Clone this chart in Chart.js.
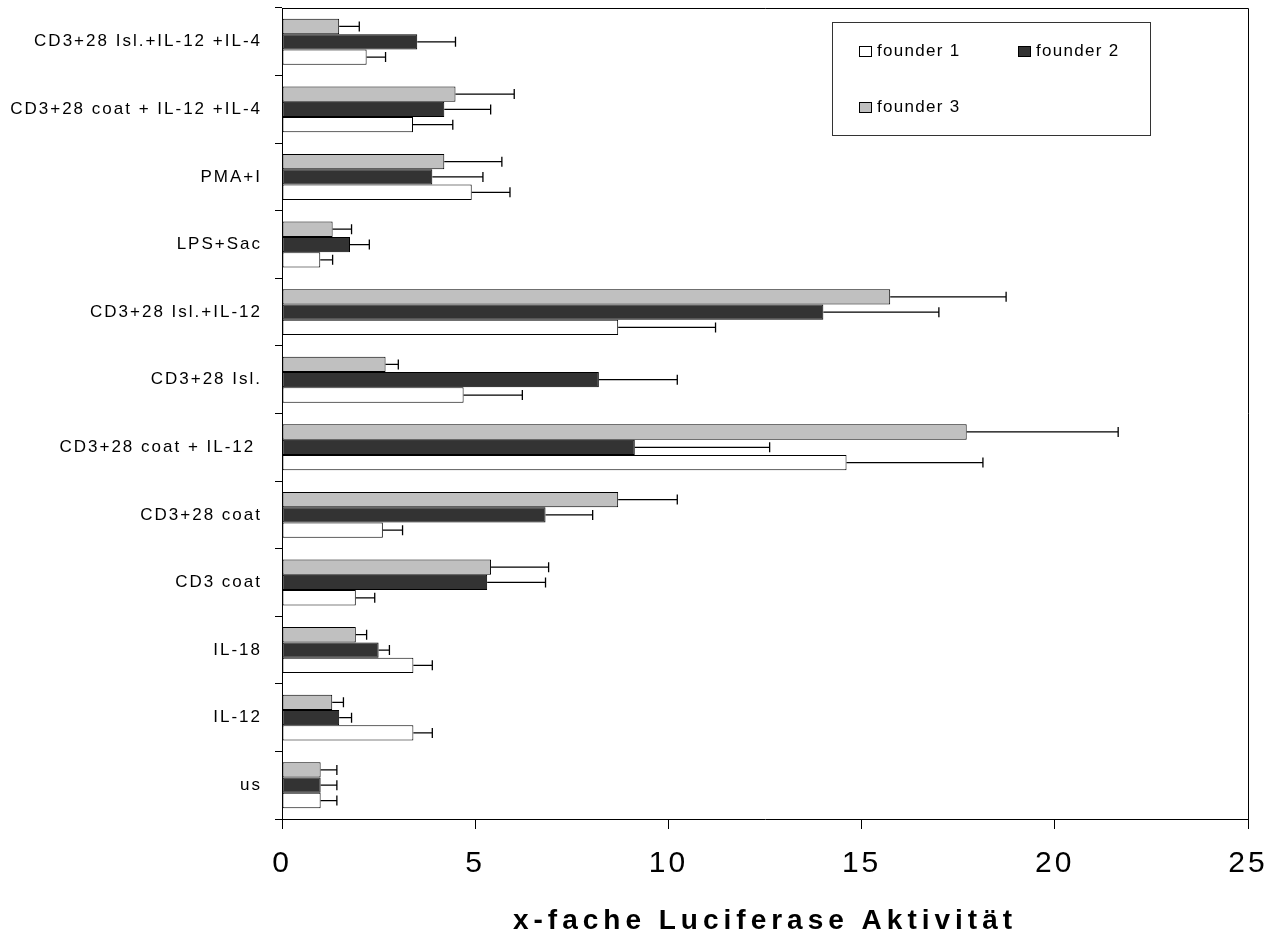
<!DOCTYPE html>
<html>
<head>
<meta charset="utf-8">
<script src="https://cdn.jsdelivr.net/npm/chart.js@4/dist/chart.umd.min.js"></script>
<style>
  html, body { margin: 0; padding: 0; background: #fff; }
  #wrap { width: 1279px; height: 935px; }
</style>
</head>
<body>
<div id="wrap"><canvas id="c" width="1279" height="935"></canvas></div>
<script>
// categories from bottom (us) to top, like the original Excel chart
const categories = ['us', 'IL-12', 'IL-18', 'CD3 coat', 'CD3+28 coat', 'CD3+28 coat + IL-12 ',
  'CD3+28 Isl.', 'CD3+28 Isl.+IL-12', 'LPS+Sac', 'PMA+I', 'CD3+28 coat + IL-12 +IL-4', 'CD3+28 Isl.+IL-12 +IL-4']

const founder1 = [1.0, 3.4, 3.4, 1.91, 2.61, 14.61, 4.7, 8.7, 0.99, 4.91, 3.39, 2.19]
const founder2 = [1.0, 1.48, 2.5, 5.31, 6.82, 9.13, 8.2, 14.01, 1.76, 3.89, 4.2, 3.5]
const founder3 = [1.0, 1.3, 1.91, 5.41, 8.7, 17.72, 2.68, 15.74, 1.31, 4.2, 4.49, 1.48]

// error (upper part only)
const err1 = [0.42, 0.49, 0.49, 0.49, 0.51, 3.53, 1.52, 2.52, 0.32, 0.99, 1.03, 0.49]
const err2 = [0.42, 0.32, 0.28, 1.51, 1.22, 3.49, 2.03, 2.99, 0.5, 1.31, 1.2, 0.99]
const err3 = [0.42, 0.29, 0.28, 1.49, 1.53, 3.92, 0.33, 3.0, 0.49, 1.49, 1.52, 0.52]

const xTicks = [0, 5, 10, 15, 20, 25]

const FONT = 'Arial, "Liberation Sans", sans-serif'

// canvas letterSpacing wrapper for the scale text
function spaced(fn, px) {
    return function(...args) {
        const ctx = this.ctx
        ctx.save()
        ctx.letterSpacing = px + 'px'
        fn.apply(this, args)
        ctx.restore()
    }
}

const spacingPlugin = {
    id: 'spacing',
    afterUpdate(chart) {
        const x = chart.scales.x, y = chart.scales.y
        if (!x._spaced) {
            x.drawLabels = spaced(Object.getPrototypeOf(x).drawLabels, 3)
            x.drawTitle = spaced(Object.getPrototypeOf(x).drawTitle, 5)
            x._spaced = true
        }
        if (!y._spaced) {
            y.drawLabels = spaced(Object.getPrototypeOf(y).drawLabels, 2)
            y._spaced = true
        }
    }
}

const errorBars = {
    id: 'errorBars',
    afterDatasetsDraw(chart) {
        const ctx = chart.ctx
        const xs = chart.scales.x
        ctx.save()
        ctx.strokeStyle = '#000'
        ctx.lineWidth = 1.3
        chart.data.datasets.forEach((ds, i) => {
            const meta = chart.getDatasetMeta(i)
            meta.data.forEach((bar, j) => {
                const xe = xs.getPixelForValue(ds.data[j] + ds.errors[j])
                ctx.beginPath()
                ctx.moveTo(bar.x, bar.y)
                ctx.lineTo(xe, bar.y)
                ctx.moveTo(xe, bar.y - 5)
                ctx.lineTo(xe, bar.y + 5)
                ctx.stroke()
            })
        })
        ctx.restore()
    }
}

const frameAndLegend = {
    id: 'frameAndLegend',
    beforeDraw(chart) {
        const ctx = chart.ctx
        ctx.save()
        ctx.fillStyle = '#fff'
        ctx.fillRect(0, 0, chart.width, chart.height)
        ctx.restore()
    },
    afterDraw(chart) {
        const ctx = chart.ctx
        const a = chart.chartArea
        ctx.save()
        ctx.strokeStyle = '#000'
        ctx.lineWidth = 1
        ctx.beginPath()
        ctx.moveTo(a.left, a.top + 0.5)
        ctx.lineTo(a.right + 0.5, a.top + 0.5)
        ctx.lineTo(a.right + 0.5, a.bottom)
        ctx.stroke()

        // legend box, entries in founder 1, 2, 3 order
        const bx = a.right - 416, by = a.top + 14
        ctx.strokeStyle = '#333'
        ctx.strokeRect(bx + 0.5, by + 0.5, 318, 113)
        const pos = [[bx + 27, by + 29], [bx + 186, by + 29], [bx + 27, by + 85]]
        const entries = chart.data.datasets.slice().sort((p, q) => p.label.localeCompare(q.label))
        ctx.font = '17px ' + FONT
        ctx.letterSpacing = '1.3px'
        ctx.textBaseline = 'middle'
        entries.forEach((ds, i) => {
            const [lx, ly] = pos[i]
            ctx.fillStyle = ds.backgroundColor
            ctx.fillRect(lx, ly - 5, 12, 10)
            ctx.strokeStyle = '#000'
            ctx.strokeRect(lx + 0.5, ly - 4.5, 12, 10)
            ctx.fillStyle = '#000'
            ctx.fillText(ds.label, lx + 18, ly)
        })
        ctx.restore()
    }
}

const ctx = document.getElementById('c').getContext('2d')
new Chart(ctx, {
    type: 'bar',
    data: {
        labels: categories,
        // founder 3 first so it sits at the top of each group
        datasets: [
            {label: 'founder 3', data: founder3, errors: err3, backgroundColor: '#c0c0c0'},
            {label: 'founder 2', data: founder2, errors: err2, backgroundColor: '#333333'},
            {label: 'founder 1', data: founder1, errors: err1, backgroundColor: '#ffffff'}
        ]
    },
    options: {
        indexAxis: 'y',
        responsive: false,
        animation: false,
        layout: {padding: {top: 8, right: 31, left: 0, bottom: 0}},
        datasets: {
            bar: {
                borderColor: '#000',
                borderWidth: 1,
                borderSkipped: false,
                categoryPercentage: 0.68,
                barPercentage: 1.0
            }
        },
        plugins: {
            legend: {display: false},
            tooltip: {enabled: false}
        },
        scales: {
            y: {
                reverse: true,
                afterFit: (s) => { s.width = 282; s.paddingTop = 0; s.paddingBottom = 0 },
                grid: {drawOnChartArea: false, tickLength: 7, color: '#000', offset: true},
                border: {color: '#000', width: 1},
                ticks: {color: '#000', padding: 13, font: {family: FONT, size: 17}}
            },
            x: {
                min: 0,
                max: 25,
                afterFit: (s) => { s.height = 116; s.paddingLeft = 0; s.paddingRight = 0 },
                afterBuildTicks: (s) => { s.ticks = xTicks.map(v => ({value: v})) },
                grid: {drawOnChartArea: false, tickLength: 10, color: '#000'},
                border: {color: '#000', width: 1},
                ticks: {color: '#000', padding: 17, font: {family: FONT, size: 30}},
                title: {
                    display: true,
                    text: 'x-fache Luciferase Aktivität',
                    color: '#000',
                    padding: {top: 0, bottom: 0},
                    font: {family: FONT, size: 28, weight: 'bold', lineHeight: 1}
                }
            }
        }
    },
    plugins: [spacingPlugin, errorBars, frameAndLegend]
})
</script>
</body>
</html>
